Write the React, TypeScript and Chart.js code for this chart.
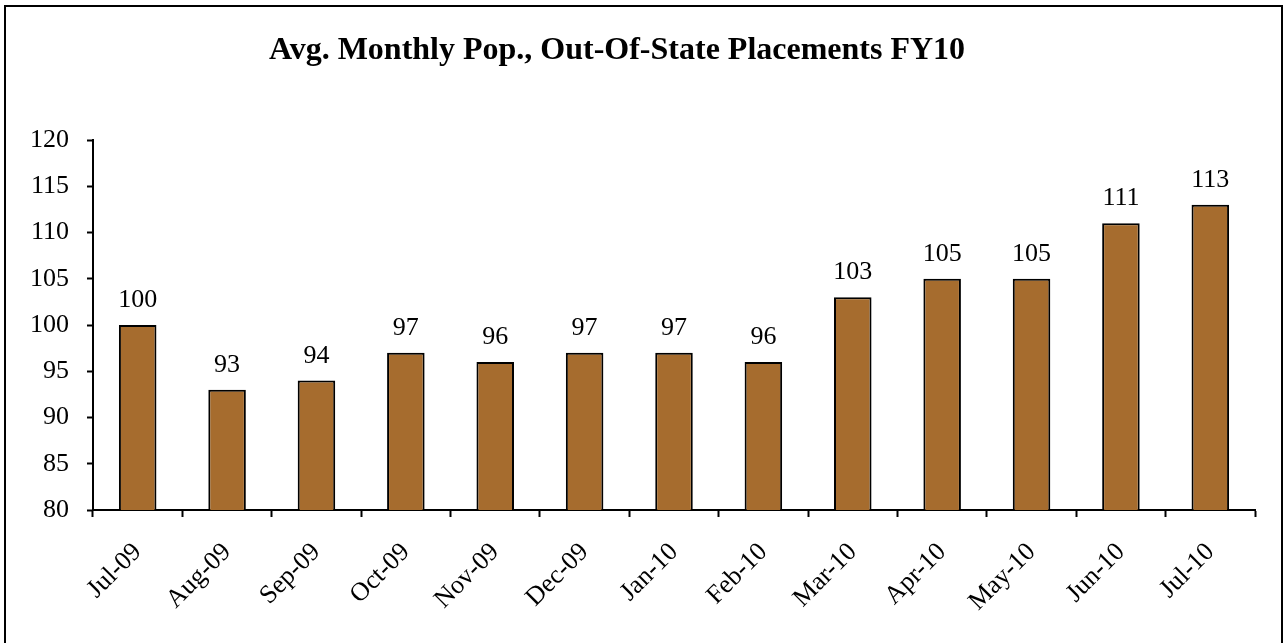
import React, { useEffect, useRef } from "react";
import { Chart, registerables } from "chart.js";

Chart.register(...registerables);

const TITLE = "Avg. Monthly Pop., Out-Of-State Placements FY10";
const categories = ["Jul-09", "Aug-09", "Sep-09", "Oct-09", "Nov-09", "Dec-09", "Jan-10", "Feb-10", "Mar-10", "Apr-10", "May-10", "Jun-10", "Jul-10"];
const values = [100, 93, 94, 97, 96, 97, 97, 96, 103, 105, 105, 111, 113];
const yMin = 80;
const yMax = 120;
const yStep = 5;

const FONT = "'Liberation Serif', 'Times New Roman', serif";

export default function App() {
  const ref = useRef<HTMLCanvasElement>(null);
  useEffect(() => {
    document.body.style.margin = "0";
    const canvas = ref.current!;
    const framePlugin = {
      id: "frame",
      beforeDraw(chart: any) {
        const ctx = chart.ctx;
        ctx.save();
        ctx.fillStyle = "#ffffff";
        ctx.fillRect(0, 0, chart.width, chart.height);
        ctx.strokeStyle = "#000";
        ctx.lineWidth = 2;
        ctx.strokeRect(5, 6, chart.width - 9, chart.height + 20);
        ctx.fillStyle = "#000";
        ctx.font = `bold 32px ${FONT}`;
        ctx.textAlign = "center";
        ctx.textBaseline = "alphabetic";
        ctx.fillText(TITLE, 617, 59);
        ctx.restore();
      },
      afterDatasetsDraw(chart: any) {
        const ctx = chart.ctx;
        const meta = chart.getDatasetMeta(0);
        ctx.save();
        ctx.fillStyle = "#000";
        ctx.font = `26px ${FONT}`;
        ctx.textAlign = "center";
        ctx.textBaseline = "alphabetic";
        meta.data.forEach((el: any, i: number) => {
          ctx.fillText(String(values[i]), el.x, el.y - 18);
        });
        ctx.restore();
      },
    };
    const chart = new Chart(canvas, {
      type: "bar",
      data: {
        labels: categories,
        datasets: [
          {
            data: values,
            backgroundColor: "#A66C2E",
            borderColor: "#000000",
            borderWidth: 2,
            barPercentage: 0.42,
            categoryPercentage: 1,
          },
        ],
      },
      options: {
        responsive: false,
        animation: false,
        layout: { padding: { left: 10, top: 140, right: 31, bottom: 0 } },
        plugins: {
          legend: { display: false },
          title: { display: false },
          tooltip: { enabled: false },
        },
        scales: {
          x: {
            afterFit(scale: any) {
              scale.height = 133;
            },
            grid: {
              display: true,
              offset: true,
              drawOnChartArea: false,
              drawTicks: true,
              tickLength: 7,
              tickWidth: 2,
              tickColor: "#000",
            },
            border: { display: true, color: "#000", width: 2 },
            ticks: {
              color: "#000",
              font: { family: FONT, size: 26 },
              minRotation: 45,
              maxRotation: 45,
              padding: 20,
            },
          },
          y: {
            min: yMin,
            max: yMax,
            afterFit(scale: any) {
              scale.width = 83;
            },
            grid: {
              display: true,
              drawOnChartArea: false,
              drawTicks: true,
              tickLength: 6,
              tickWidth: 2,
              tickColor: "#000",
            },
            border: { display: true, color: "#000", width: 2 },
            ticks: {
              stepSize: yStep,
              color: "#000",
              font: { family: FONT, size: 26 },
              padding: 18,
            },
          },
        },
      },
      plugins: [framePlugin],
    });
    return () => chart.destroy();
  }, []);
  return (
    <div style={{ width: 1286, height: 643 }}>
      <canvas ref={ref} width={1286} height={643} />
    </div>
  );
}
